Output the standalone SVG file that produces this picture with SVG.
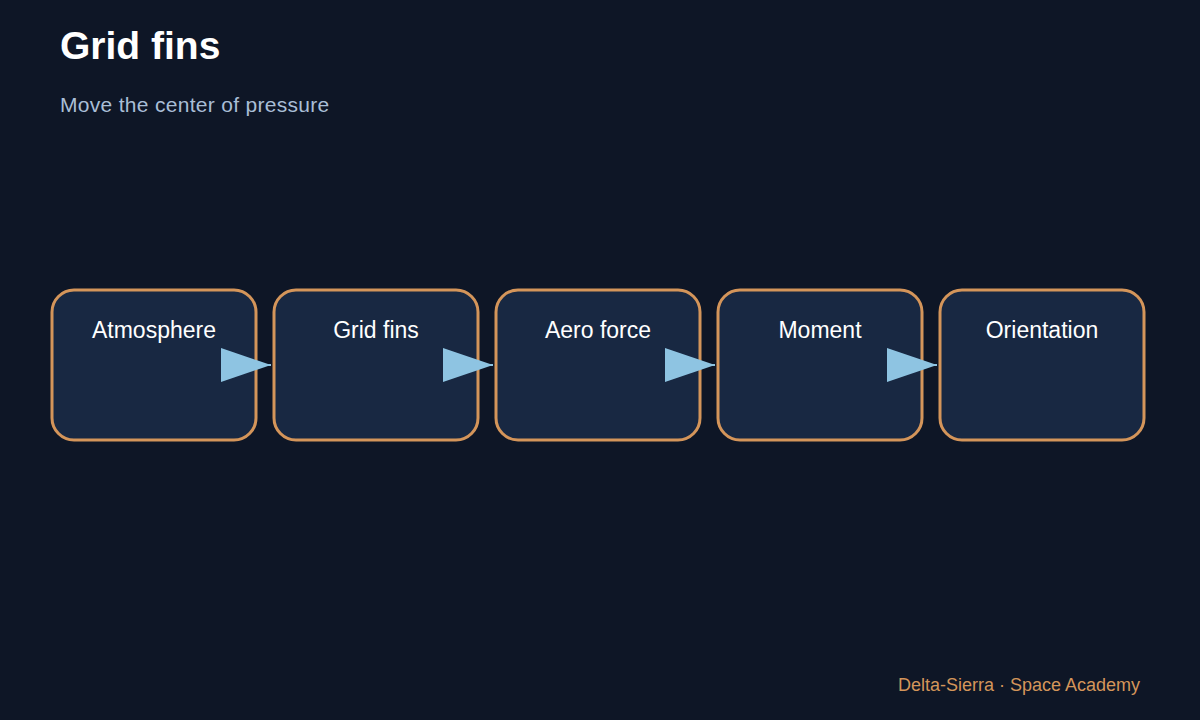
<svg xmlns="http://www.w3.org/2000/svg" width="1200" height="720" viewBox="0 0 1200 720">
<style>
.box{fill:#182842;stroke:#d4955a;stroke-width:3}
.lbl{font-family:"Liberation Sans",Arial,sans-serif;font-size:23px;fill:#ffffff;text-anchor:middle}
.conn{stroke:#8ec4e2;stroke-width:2}
</style>
<defs>
<marker id="arr" markerUnits="userSpaceOnUse" markerWidth="50" markerHeight="34" refX="50" refY="17" orient="auto" viewBox="0 0 50 34">
<path d="M0,0 L50,17 L0,34 Z" fill="#8ec4e2"/>
</marker>
</defs>
<rect width="1200" height="720" fill="#0e1626"/>
<text x="60" y="59" font-family="Liberation Sans,Arial,sans-serif" font-size="39" font-weight="bold" fill="#ffffff">Grid fins</text>
<text x="60" y="112" font-family="Liberation Sans,Arial,sans-serif" font-size="21" fill="#a9bed6" letter-spacing="0.3">Move the center of pressure</text>
<g id="n1"><rect class="box" x="52" y="290" width="204" height="150" rx="22"/><text class="lbl" x="154" y="338">Atmosphere</text></g>
<g id="n2"><rect class="box" x="274" y="290" width="204" height="150" rx="22"/><text class="lbl" x="376" y="338">Grid fins</text></g>
<g id="n3"><rect class="box" x="496" y="290" width="204" height="150" rx="22"/><text class="lbl" x="598" y="338">Aero force</text></g>
<g id="n4"><rect class="box" x="718" y="290" width="204" height="150" rx="22"/><text class="lbl" x="820" y="338">Moment</text></g>
<g id="n5"><rect class="box" x="940" y="290" width="204" height="150" rx="22"/><text class="lbl" x="1042" y="338">Orientation</text></g>
<g id="connectors">
<line class="conn" x1="256" y1="365" x2="271" y2="365" marker-end="url(#arr)"/>
<line class="conn" x1="478" y1="365" x2="493" y2="365" marker-end="url(#arr)"/>
<line class="conn" x1="700" y1="365" x2="715" y2="365" marker-end="url(#arr)"/>
<line class="conn" x1="922" y1="365" x2="937" y2="365" marker-end="url(#arr)"/>
</g>
<text x="1140" y="691" font-family="Liberation Sans,Arial,sans-serif" font-size="18" fill="#d4955a" text-anchor="end">Delta-Sierra · Space Academy</text>
</svg>
